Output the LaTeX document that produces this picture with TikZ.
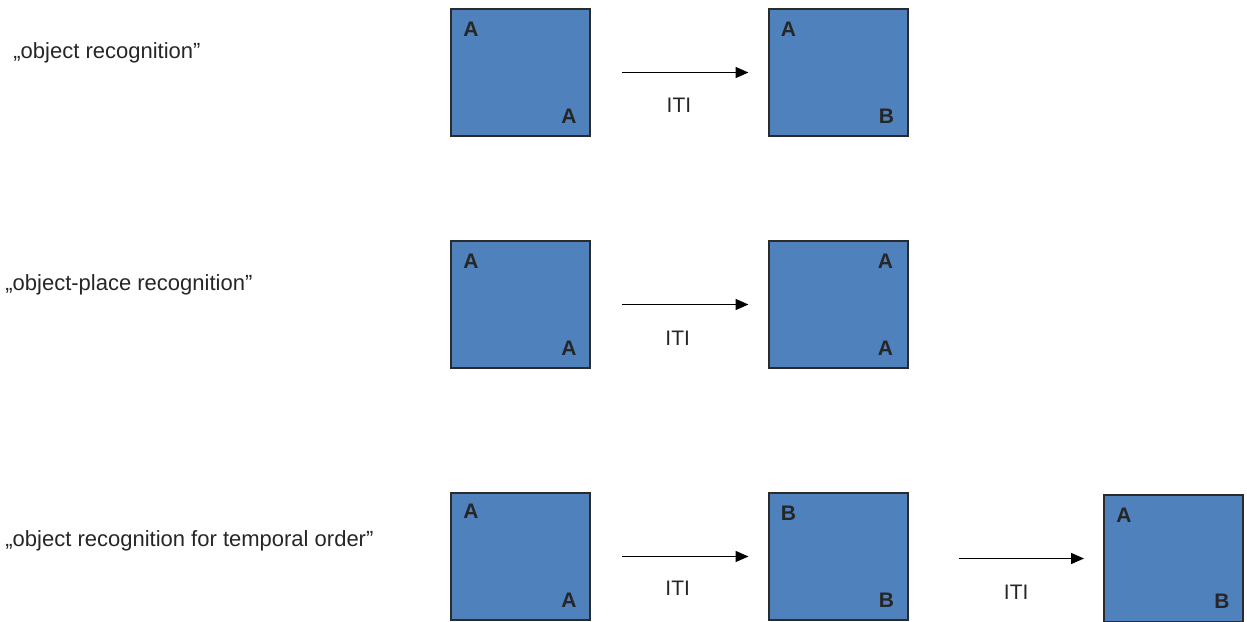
\documentclass[tikz,border=0pt]{standalone}
\usepackage{fontspec}
\setmainfont{Liberation Sans}
\usetikzlibrary{arrows.meta,positioning,calc}
\definecolor{boxblue}{HTML}{4F81BD}
\definecolor{boxline}{HTML}{2B2B2B}
\tikzset{
  arena/.style={
    draw=boxline, fill=boxblue, line width=1pt,
    minimum width=69.5pt, minimum height=63.5pt,
    inner sep=0pt
  },
  obj/.style={
    font=\fontsize{10.5pt}{12pt}\selectfont\bfseries,
    text=black!85, inner sep=0pt
  },
  iti arrow/.style={
    -{Triangle[length=6.5pt,width=5.5pt]}, line width=0.8pt, draw=black
  },
  iti/.style={
    font=\fontsize{10.5pt}{12pt}\selectfont, text=black!85, inner sep=0pt
  },
  task/.style={
    font=\fontsize{11pt}{13pt}\selectfont, text=black!85,
    inner sep=0pt, anchor=base west
  },
}
\begin{document}
\begin{tikzpicture}[x=0.5pt, y=-0.5pt]

  \useasboundingbox (0,0) rectangle (1247,621);

  % Task names
  \node[task] (t1) at (13,58) {„object recognition"};
  \node[task] (t2) at (5,290) {„object-place recognition"};
  \node[task] (t3) at (5,546) {„object recognition for temporal order"};

  % Object recognition
  \node[arena] (r1a) at (520.5,72.5) {};
  \node[arena] (r1b) at (838,72.5) {};
  \node[obj] (r1a1) at ([shift={(21,21)}]r1a.north west) {A};
  \node[obj] (r1a2) at ([shift={(-22,-21)}]r1a.south east) {A};
  \node[obj] (r1b1) at ([shift={(21,21)}]r1b.north west) {A};
  \node[obj] (r1b2) at ([shift={(-22,-21)}]r1b.south east) {B};
  \draw[iti arrow] ([xshift=15.5pt]r1a.east) -- ([xshift=-9.5pt]r1b.west)
    node[iti, pos=0.45, yshift=-16.5pt] (i1) {ITI};

  % Object-place recognition
  \node[arena] (r2a) at (520.5,304.5) {};
  \node[arena] (r2b) at (838,304.5) {};
  \node[obj] (r2a1) at ([shift={(21,21)}]r2a.north west) {A};
  \node[obj] (r2a2) at ([shift={(-22,-21)}]r2a.south east) {A};
  \node[obj] (r2b1) at ([shift={(-23,21)}]r2b.north east) {A};
  \node[obj] (r2b2) at ([shift={(-23,-21)}]r2b.south east) {A};
  \draw[iti arrow] ([xshift=15.5pt]r2a.east) -- ([xshift=-9.5pt]r2b.west)
    node[iti, pos=0.44, yshift=-17pt] (i2) {ITI};

  % Temporal order
  \node[arena] (r3a) at (520.5,556.5) {};
  \node[arena] (r3b) at (838,556.5) {};
  \node[arena] (r3c) at (1173.5,558.5) {};
  \node[obj] (r3a1) at ([shift={(21,19)}]r3a.north west) {A};
  \node[obj] (r3a2) at ([shift={(-22,-21)}]r3a.south east) {A};
  \node[obj] (r3b1) at ([shift={(21,21)}]r3b.north west) {B};
  \node[obj] (r3b2) at ([shift={(-22,-21)}]r3b.south east) {B};
  \node[obj] (r3c1) at ([shift={(21,21)}]r3c.north west) {A};
  \node[obj] (r3c2) at ([shift={(-22,-22)}]r3c.south east) {B};
  \draw[iti arrow] ([xshift=15.5pt]r3a.east) -- ([xshift=-9.5pt]r3b.west)
    node[iti, pos=0.44, yshift=-16pt] (i3) {ITI};
  \draw[iti arrow] ([xshift=25pt,yshift=-1pt]r3b.east) -- ([xshift=-9.5pt]r3c.west)
    node[iti, pos=0.46, yshift=-17pt] (i4) {ITI};

\end{tikzpicture}
\end{document}
